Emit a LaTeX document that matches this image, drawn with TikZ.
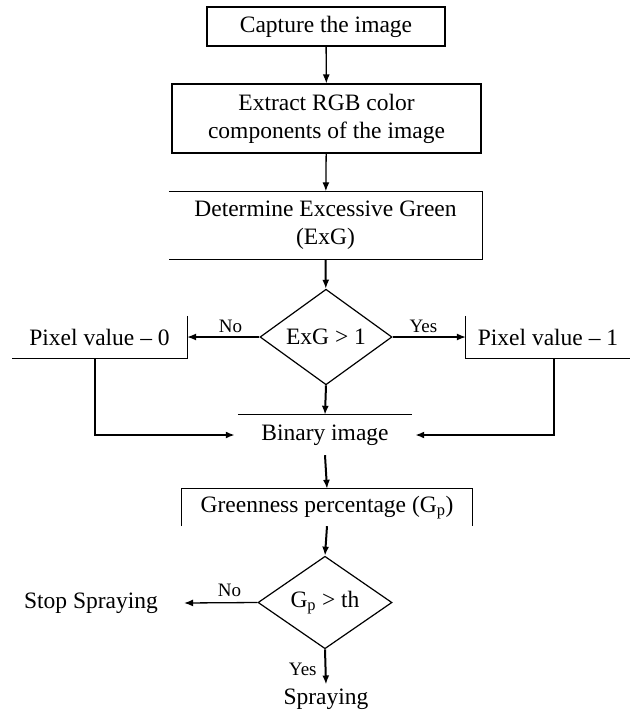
\documentclass[tikz,border=0pt]{standalone}
\usepackage{fontspec}
\setmainfont{Liberation Serif}
\usetikzlibrary{shapes.geometric,arrows.meta}
\begin{document}
\begin{tikzpicture}[x=1pt,y=-1pt,
  every node/.style={font=\fontsize{23.5}{28}\selectfont, inner sep=0pt, align=center},
  lbl/.style={font=\fontsize{19}{22}\selectfont},
  edge/.style={line width=1.2pt},
  arr/.style={-{Latex[length=9pt,width=7pt]}, line width=1.3pt},
  thickarr/.style={-{Latex[length=9pt,width=7pt]}, line width=2pt},
  dia/.style={diamond, draw, line width=1.2pt}]
\useasboundingbox (0,0) rectangle (630,713);
\fill[white] (0,0) rectangle (630,713);

\node[draw, edge, minimum width=238pt, minimum height=39pt] (cap) at (326,26.5) {Capture the image};
\node[draw, edge, minimum width=309pt, minimum height=69pt] (ext) at (326.5,118.5) {Extract RGB color\\components of the image};
\node[minimum width=313pt, minimum height=68pt] (exg) at (325.5,225.5) {Determine Excessive Green\\(ExG)};
\draw[edge] (exg.north west) -- (exg.north east) -- (exg.south east) -- (exg.south west);

\node[dia, minimum width=132pt, minimum height=82pt] (d1) at (326,337) {ExG > 1};

\node[minimum width=175pt, minimum height=42pt] (p0) at (99.5,337) {Pixel value – 0};
\draw[edge] (p0.north east) -- (p0.south east) -- (p0.south west);
\node[minimum width=164pt, minimum height=42pt] (p1) at (548,337) {Pixel value – 1};
\draw[edge] (p1.north west) -- (p1.south west) -- (p1.south east);

\node[minimum width=174pt, minimum height=40pt] (bin) at (325,435) {Binary image};
\draw[edge] (bin.north west) -- (bin.north east);

\node[minimum width=290pt, minimum height=37pt] (gp) at (327,507.5) {Greenness percentage (G\textsubscript{p})};
\draw[edge] (gp.south west) -- (gp.north west) -- (gp.north east) -- (gp.south east);

\node[dia, minimum width=134pt, minimum height=79pt] (d2) at (325,602.5) {G\textsubscript{p} > th};
\node[inner xsep=26pt, inner ysep=3pt] (stop) at (91,603) {Stop Spraying};
\node[inner ysep=4pt] (spray) at (326,699) {Spraying};

\draw[arr] (cap) -- (ext);
\draw[arr] (ext) -- (exg);
\draw[thickarr] (exg) -- (d1);
\draw[arr] (d1.west) -- node[lbl, pos=0.4, above=4pt] {No} (p0.east);
\draw[arr] (d1.east) -- node[lbl, pos=0.42, above=4pt] {Yes} (p1.west);
\draw[thickarr] (d1.south) -- (bin.north);
\draw[thickarr] ([xshift=-4.5pt]p0.south) |- ([xshift=-3pt]bin.west);
\draw[thickarr] ([xshift=6pt]p1.south) |- ([xshift=3pt]bin.east);
\draw[thickarr] (bin.south) -- (gp.north);
\draw[thickarr] (gp.south) -- (d2.north);
\draw[arr] (d2.west) -- node[lbl, pos=0.38, above=5pt] {No} (stop.east);
\draw[thickarr] (d2.south) -- node[lbl, pos=0.58, left=8pt] {Yes} (spray.north);
\end{tikzpicture}
\end{document}
